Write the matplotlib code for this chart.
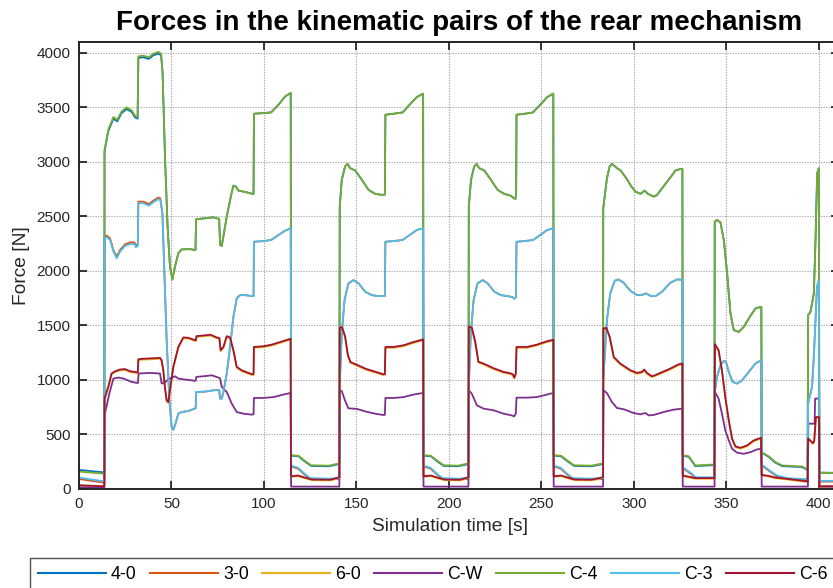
import matplotlib
matplotlib.use("Agg")
import matplotlib.pyplot as plt

# ---------------- data (time [s], force [N]) ----------------
F_4_0 = [
    (0, 175), (13.7, 152),
    (13.8, 3096), (15.8, 3280), (18.6, 3397), (20.7, 3372), (23.0, 3448), (25.8, 3485), (28.5, 3458), (30.3, 3409), (31.7, 3397),
    (32.1, 3954), (34.7, 3960), (37.8, 3945), (40.2, 3978), (42.9, 3994), (44.4, 3978),
    (45.2, 3816), (46.5, 3050), (47.9, 2406), (49.2, 2039), (50.5, 1922), (51.9, 2039), (53.7, 2162), (55.6, 2198), (60.1, 2200), (63.0, 2192),
    (63.3, 2474), (68.2, 2483), (72.7, 2492), (75.8, 2477), (76.3, 2238), (77.2, 2229), (79.9, 2498), (82.3, 2698), (83.5, 2783), (84.8, 2774), (86.2, 2737), (89.8, 2725), (93.8, 2707), (94.4, 2707),
    (94.6, 3442), (99.7, 3448), (103.9, 3454), (107.9, 3525), (111.5, 3601), (114.5, 3632),
    (114.7, 306), (118.7, 300), (122.0, 254), (125.5, 212), (135.0, 208), (140.8, 229),
    (141.0, 2590), (142.1, 2835), (143.9, 2958), (145.2, 2982), (146.6, 2943), (149.4, 2921), (153.0, 2835), (156.6, 2743), (160.2, 2707), (163.8, 2698), (165.4, 2700),
    (165.7, 3433), (170.1, 3442), (175.0, 3454), (178.8, 3525), (182.7, 3595), (186.1, 3626),
    (186.3, 306), (190.3, 300), (193.7, 254), (197.2, 212), (205.0, 208), (210.6, 229),
    (210.8, 2590), (212.0, 2835), (213.7, 2958), (215.0, 2982), (216.4, 2943), (219.2, 2921), (222.8, 2835), (226.4, 2743), (230.0, 2707), (233.5, 2690), (235.0, 2670), (236.0, 2660), (236.4, 2700),
    (236.6, 3433), (241.0, 3442), (245.5, 3454), (249.5, 3525), (253.2, 3595), (256.5, 3626),
    (256.7, 306), (260.7, 300), (264.2, 254), (267.7, 212), (277.0, 208), (283.4, 229),
    (283.5, 2575), (285.5, 2850), (287.0, 2960), (288.2, 2982), (289.5, 2965), (290.9, 2943), (293.0, 2920), (296.3, 2842), (298.5, 2780), (300.9, 2728), (303.6, 2707), (305.9, 2737), (307.7, 2707), (310.8, 2682), (312.5, 2695), (314.4, 2737), (316.5, 2785), (318.9, 2835), (320.8, 2880), (322.5, 2921), (325.2, 2935), (326.3, 2935),
    (326.5, 306), (329.8, 294), (333.3, 210), (343.6, 219),
    (343.8, 2452), (345.0, 2468), (346.9, 2445), (348.7, 2284), (350.5, 1978), (352.3, 1610), (354.1, 1457), (356.8, 1441), (359.5, 1487), (362.2, 1564), (365.8, 1656), (369.0, 1671),
    (369.2, 334), (373.0, 294), (376.6, 241), (380.3, 210), (391.1, 201), (394.0, 173),
    (394.3, 1595), (395.6, 1625), (397.4, 1794), (398.3, 2284), (399.2, 2897), (400.1, 2943),
    (400.4, 150), (411, 148),
]

F_3_0 = [
    (0, 92), (13.7, 58),
    (13.8, 2315), (15.0, 2324), (16.8, 2299), (18.6, 2192), (20.4, 2131), (22.2, 2192), (24.9, 2244), (27.7, 2262), (30.0, 2262), (30.8, 2232), (31.8, 2245),
    (32.1, 2636), (34.7, 2636), (37.8, 2614), (40.2, 2645), (42.9, 2673), (44.0, 2665),
    (45.1, 2529), (46.2, 1978), (47.4, 1365), (48.9, 813), (50.1, 568), (51.0, 544), (52.2, 599), (53.7, 691), (55.5, 706), (59.1, 715), (62.4, 737), (63.1, 740),
    (63.4, 890), (68.2, 893), (72.7, 905), (75.8, 909), (76.3, 829), (77.2, 829), (78.1, 890), (79.9, 1059), (81.7, 1303), (83.5, 1579), (85.3, 1748), (87.1, 1778), (89.8, 1778), (93.8, 1769), (94.4, 1769),
    (94.6, 2268), (99.7, 2274), (103.9, 2284), (107.9, 2330), (111.5, 2370), (114.5, 2392),
    (114.7, 207), (118.5, 187), (122.0, 132), (125.0, 92), (135.0, 87), (140.8, 92),
    (141.0, 950), (142.1, 1426), (143.6, 1733), (145.7, 1886), (148.5, 1916), (151.2, 1886), (154.8, 1809), (158.4, 1778), (162.0, 1769), (165.4, 1769),
    (165.7, 2268), (170.1, 2274), (175.0, 2284), (178.8, 2330), (182.7, 2376), (186.1, 2392),
    (186.3, 207), (190.1, 187), (193.6, 132), (196.6, 92), (205.0, 87), (210.6, 92),
    (210.8, 950), (211.9, 1426), (213.4, 1733), (215.5, 1886), (218.3, 1916), (221.0, 1886), (224.6, 1809), (228.2, 1778), (231.8, 1769), (234.5, 1760), (235.4, 1745), (236.3, 1760),
    (236.6, 2268), (241.0, 2274), (245.5, 2284), (249.5, 2330), (253.2, 2376), (256.5, 2392),
    (256.7, 207), (260.5, 187), (264.0, 132), (267.0, 92), (277.0, 87), (283.4, 92),
    (283.5, 1000), (285.5, 1549), (287.3, 1794), (289.7, 1910), (291.8, 1922), (294.5, 1892), (298.2, 1818), (301.8, 1778), (304.8, 1782), (306.7, 1794), (309.0, 1772), (311.7, 1769), (315.3, 1809), (319.8, 1892), (323.4, 1922), (326.3, 1920),
    (326.5, 192), (329.0, 162), (331.5, 132), (333.5, 100), (343.6, 100),
    (343.8, 890), (345.0, 1028), (346.9, 1135), (348.7, 1175), (349.9, 1165), (351.7, 1059), (353.5, 982), (355.9, 967), (358.6, 997), (362.2, 1074), (365.8, 1151), (369.0, 1181),
    (369.2, 217), (373.5, 162), (377.5, 116), (383.0, 92), (394.0, 82),
    (394.3, 783), (396.4, 936), (397.3, 1181), (398.2, 1518), (399.1, 1855), (400.1, 1916),
    (400.4, 68), (411, 68),
]

F_6_0 = [
    (0, 30), (13.7, 22),
    (13.8, 821), (15.8, 928), (17.6, 1051), (19.5, 1072), (22.2, 1088), (24.9, 1092), (27.7, 1072), (30.3, 1066), (31.8, 1062),
    (32.1, 1182), (34.7, 1187), (37.5, 1189), (41.1, 1192), (43.8, 1195), (44.7, 1172), (45.6, 1082), (46.5, 922), (47.4, 805), (48.3, 790), (49.2, 897), (51.0, 1112), (53.7, 1295), (56.4, 1382), (59.1, 1379), (62.8, 1357), (63.2, 1357),
    (63.5, 1394), (69.0, 1404), (71.2, 1407), (74.5, 1382), (75.9, 1377), (76.6, 1265), (78.1, 1295), (79.9, 1394), (81.7, 1382), (83.5, 1265), (85.3, 1112), (88.0, 1081), (91.6, 1057), (93.8, 1044), (94.4, 1047),
    (94.6, 1295), (99.7, 1301), (104.2, 1316), (108.8, 1340), (114.4, 1370),
    (114.7, 112), (116.5, 114), (118.5, 118), (122.0, 99), (126.0, 81), (136.0, 79), (140.8, 102),
    (141.0, 1472), (142.3, 1475), (143.9, 1392), (145.4, 1222), (146.8, 1157), (150.2, 1132), (155.2, 1094), (160.6, 1066), (164.7, 1044), (165.4, 1047),
    (165.7, 1295), (170.1, 1295), (175.5, 1310), (180.9, 1340), (186.1, 1364),
    (186.3, 112), (188.3, 114), (190.3, 118), (193.7, 99), (197.7, 81), (206.0, 79), (210.6, 102),
    (210.8, 1479), (212.4, 1474), (214.3, 1340), (216.0, 1160), (218.8, 1142), (224.2, 1100), (229.6, 1066), (233.2, 1054), (234.5, 1045), (235.4, 1014), (236.2, 1052),
    (236.6, 1295), (242.2, 1295), (247.6, 1316), (253.0, 1347), (256.5, 1361),
    (256.7, 112), (258.7, 114), (260.7, 118), (264.2, 99), (268.2, 81), (277.0, 79), (283.4, 102),
    (283.6, 1464), (285.2, 1470), (287.0, 1388), (289.2, 1203), (292.7, 1143), (298.2, 1081), (301.8, 1057), (304.4, 1066), (305.7, 1088), (307.1, 1057), (309.8, 1026), (311.7, 1037), (314.4, 1057), (319.8, 1097), (324.3, 1136), (326.3, 1143),
    (326.5, 118), (329.0, 109), (333.3, 94), (343.6, 94),
    (343.9, 1320), (345.9, 1265), (347.7, 1081), (349.5, 836), (351.4, 622), (353.2, 453), (355.0, 383), (357.7, 370), (361.3, 392), (364.9, 438), (368.8, 462),
    (369.2, 124), (373.0, 114), (376.6, 99), (382.0, 89), (394.0, 64),
    (394.3, 456), (396.9, 413), (397.6, 432), (398.5, 652), (400.2, 652),
    (400.4, 22), (411, 22),
]

F_C_W = [
    (0, 15), (13.7, 15),
    (13.8, 675), (16.4, 875), (18.6, 1013), (21.3, 1022), (24.0, 1013), (28.5, 982), (31.2, 973), (31.9, 973),
    (32.2, 1059), (38.4, 1065), (43.8, 1059), (44.7, 967), (46.5, 981), (49.2, 1013), (51.9, 1034), (53.7, 1013), (57.3, 1004), (61.0, 997), (63.0, 991),
    (63.5, 1028), (69.0, 1037), (71.8, 1043), (75.4, 1022), (76.3, 1013), (77.2, 936), (79.9, 890), (82.6, 783), (85.3, 706), (88.9, 691), (93.4, 682), (94.4, 685),
    (94.6, 835), (99.7, 835), (105.1, 843), (110.5, 866), (114.4, 881),
    (114.7, 22), (140.8, 22),
    (141.0, 905), (142.1, 899), (143.9, 810), (145.7, 740), (150.2, 735), (155.6, 708), (161.0, 688), (164.7, 679), (165.4, 680),
    (165.7, 835), (170.1, 835), (175.5, 843), (180.9, 866), (186.1, 881),
    (186.3, 22), (210.6, 22),
    (210.8, 905), (212.4, 875), (215.2, 767), (218.8, 737), (224.2, 722), (229.6, 691), (234.1, 675), (235.3, 666), (236.2, 690),
    (236.6, 838), (242.2, 838), (247.6, 843), (253.0, 866), (256.5, 881),
    (256.7, 22), (283.4, 22),
    (283.6, 905), (285.5, 880), (288.2, 798), (290.9, 743), (294.5, 732), (299.9, 697), (303.6, 685), (306.3, 697), (308.1, 675), (310.8, 679), (316.2, 706), (321.6, 728), (326.3, 737),
    (326.5, 22), (343.7, 22),
    (343.9, 890), (345.9, 829), (347.7, 691), (349.5, 538), (351.4, 446), (353.2, 369), (355.9, 333), (359.5, 323), (363.1, 338), (366.7, 363), (369.0, 369),
    (369.2, 22), (394.2, 22),
    (394.4, 599), (397.8, 599), (398.1, 829), (400.2, 829),
    (400.4, 22), (411, 22),
]

F_C_4 = [
    (0, 160), (13.7, 140),
    (13.8, 3111), (15.8, 3295), (18.6, 3412), (20.7, 3387), (23.0, 3463), (25.8, 3500), (28.5, 3473), (30.3, 3424), (31.7, 3412),
    (32.1, 3969), (34.7, 3975), (37.8, 3960), (40.2, 3993), (42.9, 4009), (44.4, 3993),
    (45.2, 3816), (46.5, 3050), (47.9, 2406), (49.2, 2039), (50.5, 1922), (51.9, 2039), (53.7, 2162), (55.6, 2198), (60.1, 2200), (63.0, 2192),
    (63.3, 2474), (68.2, 2483), (72.7, 2492), (75.8, 2477), (76.3, 2238), (77.2, 2229), (79.9, 2498), (82.3, 2698), (83.5, 2783), (84.8, 2774), (86.2, 2737), (89.8, 2725), (93.8, 2707), (94.4, 2707),
    (94.6, 3442), (99.7, 3448), (103.9, 3454), (107.9, 3525), (111.5, 3601), (114.5, 3632),
    (114.7, 310), (118.7, 305), (122.0, 260), (125.5, 218), (135.0, 214), (140.8, 235),
    (141.0, 2590), (142.1, 2835), (143.9, 2958), (145.2, 2982), (146.6, 2943), (149.4, 2921), (153.0, 2835), (156.6, 2743), (160.2, 2707), (163.8, 2698), (165.4, 2700),
    (165.7, 3433), (170.1, 3442), (175.0, 3454), (178.8, 3525), (182.7, 3595), (186.1, 3626),
    (186.3, 310), (190.3, 305), (193.7, 260), (197.2, 218), (205.0, 214), (210.6, 235),
    (210.8, 2590), (212.0, 2835), (213.7, 2958), (215.0, 2982), (216.4, 2943), (219.2, 2921), (222.8, 2835), (226.4, 2743), (230.0, 2707), (233.5, 2690), (235.0, 2670), (236.0, 2660), (236.4, 2700),
    (236.6, 3433), (241.0, 3442), (245.5, 3454), (249.5, 3525), (253.2, 3595), (256.5, 3626),
    (256.7, 310), (260.7, 305), (264.2, 260), (267.7, 218), (277.0, 214), (283.4, 235),
    (283.5, 2575), (285.5, 2850), (287.0, 2960), (288.2, 2982), (289.5, 2965), (290.9, 2943), (293.0, 2920), (296.3, 2842), (298.5, 2780), (300.9, 2728), (303.6, 2707), (305.9, 2737), (307.7, 2707), (310.8, 2682), (312.5, 2695), (314.4, 2737), (316.5, 2785), (318.9, 2835), (320.8, 2880), (322.5, 2921), (325.2, 2935), (326.3, 2935),
    (326.5, 310), (329.8, 300), (333.3, 216), (343.6, 225),
    (343.8, 2452), (345.0, 2468), (346.9, 2445), (348.7, 2284), (350.5, 1978), (352.3, 1610), (354.1, 1457), (356.8, 1441), (359.5, 1487), (362.2, 1564), (365.8, 1656), (369.0, 1671),
    (369.2, 338), (373.0, 300), (376.6, 247), (380.3, 216), (391.1, 207), (394.0, 179),
    (394.3, 1595), (395.6, 1625), (397.4, 1794), (398.3, 2284), (399.2, 2897), (400.1, 2943),
    (400.4, 150), (411, 145),
]

F_C_3 = [
    (0, 105), (13.7, 70),
    (13.8, 2300), (15.0, 2309), (16.8, 2284), (18.6, 2177), (20.4, 2116), (22.2, 2177), (24.9, 2229), (27.7, 2247), (30.0, 2247), (30.8, 2217), (31.8, 2230),
    (32.1, 2621), (34.7, 2621), (37.8, 2599), (40.2, 2630), (42.9, 2658), (44.0, 2650),
    (45.1, 2529), (46.2, 1978), (47.4, 1365), (48.9, 813), (50.1, 568), (51.0, 544), (52.2, 599), (53.7, 691), (55.5, 706), (59.1, 715), (62.4, 737), (63.1, 740),
    (63.4, 890), (68.2, 893), (72.7, 905), (75.8, 909), (76.3, 829), (77.2, 829), (78.1, 890), (79.9, 1059), (81.7, 1303), (83.5, 1579), (85.3, 1748), (87.1, 1778), (89.8, 1778), (93.8, 1769), (94.4, 1769),
    (94.6, 2268), (99.7, 2274), (103.9, 2284), (107.9, 2330), (111.5, 2370), (114.5, 2392),
    (114.7, 215), (118.5, 195), (122.0, 140), (125.0, 100), (135.0, 95), (140.8, 100),
    (141.0, 950), (142.1, 1426), (143.6, 1733), (145.7, 1886), (148.5, 1916), (151.2, 1886), (154.8, 1809), (158.4, 1778), (162.0, 1769), (165.4, 1769),
    (165.7, 2268), (170.1, 2274), (175.0, 2284), (178.8, 2330), (182.7, 2376), (186.1, 2392),
    (186.3, 215), (190.1, 195), (193.6, 140), (196.6, 100), (205.0, 95), (210.6, 100),
    (210.8, 950), (211.9, 1426), (213.4, 1733), (215.5, 1886), (218.3, 1916), (221.0, 1886), (224.6, 1809), (228.2, 1778), (231.8, 1769), (234.5, 1760), (235.4, 1745), (236.3, 1760),
    (236.6, 2268), (241.0, 2274), (245.5, 2284), (249.5, 2330), (253.2, 2376), (256.5, 2392),
    (256.7, 215), (260.5, 195), (264.0, 140), (267.0, 100), (277.0, 95), (283.4, 100),
    (283.5, 1000), (285.5, 1549), (287.3, 1794), (289.7, 1910), (291.8, 1922), (294.5, 1892), (298.2, 1818), (301.8, 1778), (304.8, 1782), (306.7, 1794), (309.0, 1772), (311.7, 1769), (315.3, 1809), (319.8, 1892), (323.4, 1922), (326.3, 1920),
    (326.5, 200), (329.0, 170), (331.5, 140), (333.5, 108), (343.6, 108),
    (343.8, 890), (345.0, 1028), (346.9, 1135), (348.7, 1175), (349.9, 1165), (351.7, 1059), (353.5, 982), (355.9, 967), (358.6, 997), (362.2, 1074), (365.8, 1151), (369.0, 1181),
    (369.2, 225), (373.5, 170), (377.5, 124), (383.0, 100), (394.0, 90),
    (394.3, 783), (396.4, 936), (397.3, 1181), (398.2, 1518), (399.1, 1855), (400.1, 1916),
    (400.4, 75), (411, 75),
]

F_C_6 = [
    (0, 35), (13.7, 25),
    (13.8, 829), (15.8, 936), (17.6, 1059), (19.5, 1080), (22.2, 1096), (24.9, 1100), (27.7, 1080), (30.3, 1074), (31.8, 1070),
    (32.1, 1190), (34.7, 1195), (37.5, 1197), (41.1, 1200), (43.8, 1203), (44.7, 1180), (45.6, 1090), (46.5, 930), (47.4, 813), (48.3, 798), (49.2, 905), (51.0, 1120), (53.7, 1303), (56.4, 1390), (59.1, 1387), (62.8, 1365), (63.2, 1365),
    (63.5, 1402), (69.0, 1412), (71.2, 1415), (74.5, 1390), (75.9, 1385), (76.6, 1273), (78.1, 1303), (79.9, 1402), (81.7, 1390), (83.5, 1273), (85.3, 1120), (88.0, 1089), (91.6, 1065), (93.8, 1052), (94.4, 1055),
    (94.6, 1303), (99.7, 1309), (104.2, 1324), (108.8, 1348), (114.4, 1378),
    (114.7, 118), (116.5, 120), (118.5, 124), (122.0, 105), (126.0, 87), (136.0, 85), (140.8, 108),
    (141.0, 1480), (142.3, 1483), (143.9, 1400), (145.4, 1230), (146.8, 1165), (150.2, 1140), (155.2, 1102), (160.6, 1074), (164.7, 1052), (165.4, 1055),
    (165.7, 1303), (170.1, 1303), (175.5, 1318), (180.9, 1348), (186.1, 1372),
    (186.3, 118), (188.3, 120), (190.3, 124), (193.7, 105), (197.7, 87), (206.0, 85), (210.6, 108),
    (210.8, 1487), (212.4, 1482), (214.3, 1348), (216.0, 1168), (218.8, 1150), (224.2, 1108), (229.6, 1074), (233.2, 1062), (234.5, 1053), (235.4, 1022), (236.2, 1060),
    (236.6, 1303), (242.2, 1303), (247.6, 1324), (253.0, 1355), (256.5, 1369),
    (256.7, 118), (258.7, 120), (260.7, 124), (264.2, 105), (268.2, 87), (277.0, 85), (283.4, 108),
    (283.6, 1472), (285.2, 1478), (287.0, 1396), (289.2, 1211), (292.7, 1151), (298.2, 1089), (301.8, 1065), (304.4, 1074), (305.7, 1096), (307.1, 1065), (309.8, 1034), (311.7, 1045), (314.4, 1065), (319.8, 1105), (324.3, 1144), (326.3, 1151),
    (326.5, 124), (329.0, 115), (333.3, 100), (343.6, 100),
    (343.9, 1328), (345.9, 1273), (347.7, 1089), (349.5, 844), (351.4, 630), (353.2, 461), (355.0, 391), (357.7, 378), (361.3, 400), (364.9, 446), (368.8, 470),
    (369.2, 130), (373.0, 120), (376.6, 105), (382.0, 95), (394.0, 70),
    (394.3, 464), (396.9, 421), (397.6, 440), (398.5, 660), (400.2, 660),
    (400.4, 25), (411, 25),
]

series_names = ["4-0", "3-0", "6-0", "C-W", "C-4", "C-3", "C-6"]
series_data = [F_4_0, F_3_0, F_6_0, F_C_W, F_C_4, F_C_3, F_C_6]
series_colors = ["#0072BD", "#D95319", "#EDB120", "#7E2F8E", "#77AC30", "#4DBEEE", "#A2142F"]

x_ticks = list(range(0, 401, 50))
y_ticks = list(range(0, 4001, 500))

# ---------------- figure ----------------
plt.rcParams["font.family"] = ["Liberation Sans", "DejaVu Sans"]
AX_COLOR = "#262626"

fig = plt.figure(figsize=(8.33, 5.88), dpi=100)
W, H = 833.0, 588.0
ax = fig.add_axes([79 / W, 1 - 489 / H, 760 / W, 447 / H])

for name, data, color in zip(series_names, series_data, series_colors):
    t = [p[0] for p in data]
    f = [p[1] for p in data]
    ax.plot(t, f, color=color, lw=1.3, label=name, solid_joinstyle="round")

ax.set_xlim(0, 411)
ax.set_ylim(0, 4100)
ax.set_xticks(x_ticks)
ax.set_yticks(y_ticks)
ax.grid(True, linestyle=(0, (1.2, 1.2)), color="#a8a8a8", linewidth=0.8)
ax.set_axisbelow(True)
ax.tick_params(direction="in", top=True, right=True, length=6, width=1.3,
               labelsize=11, colors=AX_COLOR, pad=6)
for sp in ax.spines.values():
    sp.set_color(AX_COLOR)
    sp.set_linewidth(1.4)

ax.set_title("Forces in the kinematic pairs of the rear mechanism",
             fontsize=20, fontweight="bold", pad=9, color="black")
ax.set_xlabel("Simulation time [s]", fontsize=13.8, color=AX_COLOR)
ax.xaxis.set_label_coords((450 - 79) / 760, -0.065)
ax.set_ylabel("Force [N]", fontsize=13.8, color=AX_COLOR, labelpad=5)

leg = fig.legend(loc="upper left", bbox_to_anchor=(30 / W, 1 - 558 / H),
                 bbox_transform=fig.transFigure, ncol=7, frameon=True,
                 fancybox=False, borderaxespad=0, borderpad=0.45,
                 handlelength=3.82, handletextpad=0.28, columnspacing=0.76,
                 prop={"family": "Liberation Sans", "size": 12.8})
leg.get_frame().set_edgecolor(AX_COLOR)
leg.get_frame().set_linewidth(1.0)
for ln in leg.get_lines():
    ln.set_linewidth(1.5)

fig.savefig("out.png", dpi=100)
